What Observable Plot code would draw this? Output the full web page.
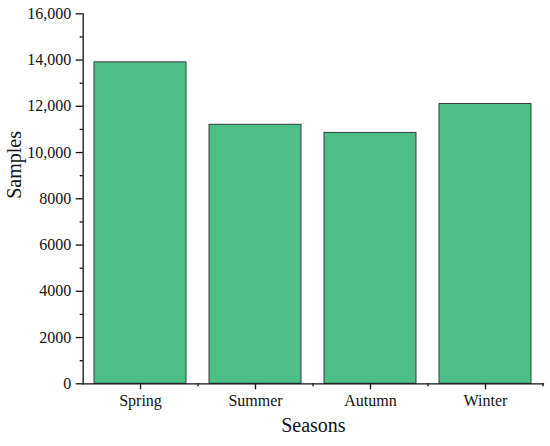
<!DOCTYPE html>
<html>
<head>
<meta charset="utf-8">
<script src="https://cdn.jsdelivr.net/npm/d3@7"></script>
<script src="https://cdn.jsdelivr.net/npm/@observablehq/plot@0.6"></script>
<style>
  html, body { margin: 0; padding: 0; background: #fff; }
</style>
</head>
<body>
<div id="chart"></div>
<script>
const seasons = ["Spring", "Summer", "Autumn", "Winter"];
const samples = [13900, 11200, 10850, 12100];
const majorTicks = [0, 2000, 4000, 6000, 8000, 10000, 12000, 14000, 16000];
const minorTicks = [1000, 3000, 5000, 7000, 9000, 11000, 13000, 15000];

const data = seasons.map((s, i) => ({season: s, samples: samples[i]}));

const W = 550, H = 446;
const mL = 82.7, mR = 7, mT = 13.3, mB = 62.7;
const step = (W - mL - mR) / seasons.length;

const fmt = d => d >= 10000 ? d3.format(",")(d) : String(d);

const chart = Plot.plot({
  width: W,
  height: H,
  marginLeft: mL,
  marginRight: mR,
  marginTop: mT,
  marginBottom: mB,
  style: {fontFamily: "'Liberation Serif', 'Times New Roman', serif", fontSize: "16px", color: "#111", background: "#fff"},
  x: {domain: seasons, paddingInner: 0.2, paddingOuter: 0.1},
  y: {domain: [0, 16000]},
  marks: [
    Plot.barY(data, {x: "season", y: "samples", fill: "#4bbf86", stroke: "#3a3a3a", strokeWidth: 1}),
    Plot.frame({anchor: "left", stroke: "#111", strokeWidth: 1.3}),
    Plot.frame({anchor: "bottom", stroke: "#111", strokeWidth: 1.3}),
    Plot.axisY({ticks: majorTicks, tickFormat: fmt, tickSize: 7, tickPadding: 5, label: null, strokeWidth: 1.3, fontSize: 16, fill: "#111"}),
    Plot.axisY({ticks: minorTicks, text: null, tickSize: 3, label: null, strokeWidth: 1.3}),
    Plot.axisX({tickSize: 6, tickPadding: 5, label: null, strokeWidth: 1.3, fontSize: 16, fill: "#111"}),
    Plot.axisX({tickSize: 3, text: null, label: null, dx: step / 2, strokeWidth: 1.3}),
    Plot.text(["Samples"], {frameAnchor: "left", rotate: -90, dx: -69, fontSize: 20, fill: "#111"}),
    Plot.text(["Seasons"], {frameAnchor: "bottom", dy: 48, fontSize: 20, fill: "#111"})
  ]
});

document.getElementById("chart").appendChild(chart);
</script>
</body>
</html>
